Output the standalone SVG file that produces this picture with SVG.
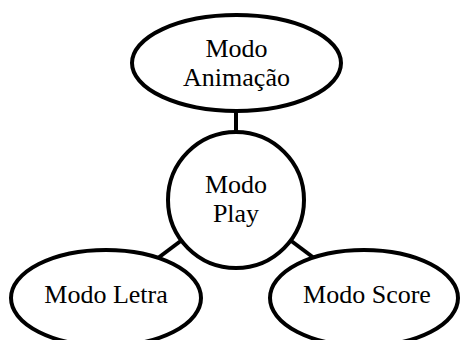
<svg xmlns="http://www.w3.org/2000/svg" width="460" height="340" viewBox="0 0 460 340">
<style>
.n{fill:#fff;stroke:#000;stroke-width:4}
.c{stroke:#000;stroke-width:4;fill:none}
text{font-family:"Liberation Serif","Times New Roman",serif;font-size:26px;fill:#000;text-anchor:middle}
</style>
<rect width="460" height="340" fill="#fff"/>
<g id="connectors">
<line class="c" x1="236" y1="110" x2="236" y2="132"/>
<line class="c" x1="158" y1="258" x2="182" y2="240"/>
<line class="c" x1="314" y1="258" x2="290" y2="240"/>
</g>
<g id="animacao">
<ellipse class="n" cx="236.5" cy="63" rx="104.5" ry="48"/>
<text x="236.5" y="57">Modo</text>
<text x="236.5" y="86">Animação</text>
</g>
<g id="play">
<circle class="n" cx="236" cy="200" r="68"/>
<text x="236" y="193">Modo</text>
<text x="236" y="222">Play</text>
</g>
<g id="letra">
<ellipse class="n" cx="106" cy="298" rx="95" ry="48"/>
<text x="106" y="303">Modo Letra</text>
</g>
<g id="score">
<ellipse class="n" cx="364" cy="298" rx="94" ry="48"/>
<text x="367" y="303">Modo Score</text>
</g>
</svg>
